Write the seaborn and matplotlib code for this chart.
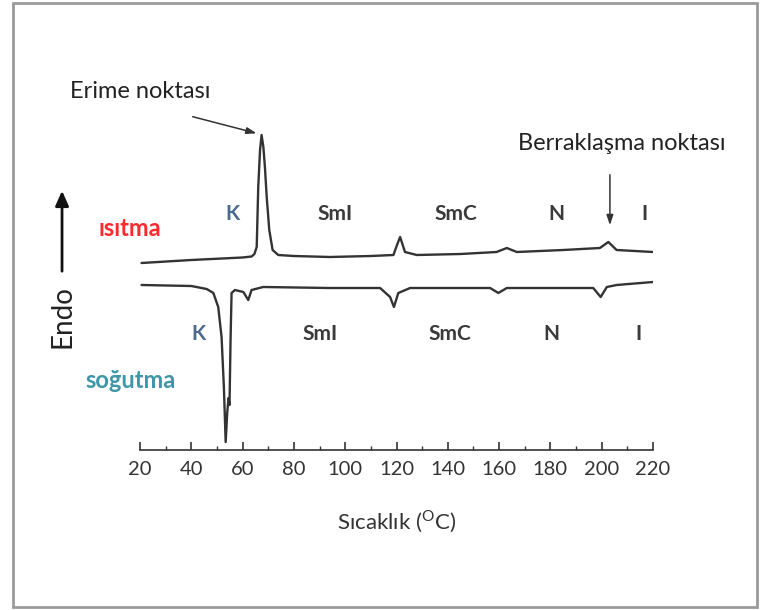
import matplotlib as mpl
import matplotlib.pyplot as plt
import matplotlib.patches as mpatches
import numpy as np
import pandas as pd
import seaborn as sns

# DSC curve (temperature in degC, signal in arbitrary units)
heat_T = [20.6, 40, 60, 63.5, 64.6, 65.5, 66.1, 66.8, 67.4, 68.1, 68.7, 69.4, 70.4, 71.7,
          73.9, 80, 94, 110, 118.8, 120.2, 121.4, 122.3, 123.3, 127.9, 145, 159, 163,
          166.9, 185, 199.3, 202.6, 205.8, 220]
heat_val = [187, 190, 192.5, 193.5, 196, 203, 263, 300, 315, 303, 283, 253, 220, 200,
            195, 194, 193, 194, 195, 205, 213, 206, 198, 195, 196, 198, 202, 198, 200,
            202, 208, 200, 198]

cool_T = [20.6, 40, 46, 48.6, 50.5, 51.8, 52.7, 53.4, 54.0, 54.5, 54.9, 55.3, 55.7, 57,
          60.3, 62.2, 63.5, 68, 94, 113.6, 117.5, 119, 120.7, 125.3, 156.5, 159.7, 163,
          196.7, 199.6, 202, 205.8, 220]
cool_val = [165, 164, 161, 157, 143, 113, 63, 8, 37, 52, 45, 110, 157, 160,
            158, 150, 160, 163, 162, 162, 153, 143, 157, 162, 162, 157, 162,
            162, 153, 163, 165, 168]

phase_labels = ["K", "SmI", "SmC", "N", "I"]
heat_phase_T = [56.1, 96.2, 143.2, 182.4, 216.5]
cool_phase_T = [43.0, 90.4, 140.9, 180.2, 214.2]

sns.set_style("white")
plt.rcParams["font.family"] = ["Lato", "DejaVu Sans"]
plt.rcParams["mathtext.fontset"] = "custom"
plt.rcParams["mathtext.rm"] = "Lato"

fig = plt.figure(figsize=(7.7, 6.1), dpi=100)
ax = fig.add_axes([140 / 770, 160 / 610, 513 / 770, 350 / 610])

line_color = "#333333"
heat = pd.DataFrame({"T": heat_T, "val": heat_val})
cool = pd.DataFrame({"T": cool_T, "val": cool_val})
sns.lineplot(data=heat, x="T", y="val", ax=ax, color=line_color, lw=1.7, sort=False)
sns.lineplot(data=cool, x="T", y="val", ax=ax, color=line_color, lw=1.7, sort=False)

ax.set_xlim(20, 220)
ax.set_ylim(0, 350)
ax.set_xticks(np.arange(20, 221, 20))
ax.set_xticks(np.arange(30, 220, 20), minor=True)
ax.set_yticks([])
ax.set_ylabel("")
ax.spines[["top", "right", "left"]].set_visible(False)
ax.spines["bottom"].set_color("#333333")
ax.spines["bottom"].set_linewidth(1.2)
ax.tick_params(axis="x", which="major", direction="in", length=6, width=1.2,
               labelsize=14.5, colors="#333333", pad=8, bottom=True)
ax.tick_params(axis="x", which="minor", direction="in", length=3, width=1.0,
               colors="#333333", bottom=True)
ax.set_xlabel(r"Sıcaklık ($^{\mathrm{O}}$C)", fontsize=16, color="#333333", labelpad=22)

# phase labels
for lab, t in zip(phase_labels, heat_phase_T):
    ax.text(t, 236, lab, ha="center", va="center", fontsize=15, fontweight="bold",
            color="#4a6b8c" if lab == "K" else "#3a3a3a")
for lab, t in zip(phase_labels, cool_phase_T):
    ax.text(t, 116, lab, ha="center", va="center", fontsize=15, fontweight="bold",
            color="#4a6b8c" if lab == "K" else "#3a3a3a")

# heating / cooling labels
ax.text(16.1, 222, "ısıtma", ha="center", va="center", fontsize=17, fontweight="bold",
        color="#ff2a2a", clip_on=False)
ax.text(16.5, 69, "soğutma", ha="center", va="center", fontsize=17, fontweight="bold",
        color="#3d97a8", clip_on=False)

# Endo arrow
ax.text(-10.4, 133, "Endo", ha="center", va="center", rotation=90, fontsize=20,
        color="#222222", clip_on=False)
ax.annotate("", xy=(-10.4, 262), xytext=(-10.4, 176), annotation_clip=False,
            arrowprops=dict(arrowstyle="-|>,head_length=0.9,head_width=0.4",
                            color="#111111", lw=2))

# melting point
ax.text(20, 359, "Erime noktası", ha="center", va="center", fontsize=17, color="#222222",
        clip_on=False)
ax.annotate("", xy=(66.5, 316), xytext=(39.5, 334), annotation_clip=False,
            arrowprops=dict(arrowstyle="-|>,head_length=0.6,head_width=0.2",
                            color="#333333", lw=1.1))

# clearing point
ax.text(207.9, 307, "Berraklaşma noktası", ha="center", va="center", fontsize=17,
        color="#222222", clip_on=False)
ax.annotate("", xy=(203.2, 222), xytext=(203.2, 278), annotation_clip=False,
            arrowprops=dict(arrowstyle="-|>,head_length=0.6,head_width=0.2",
                            color="#333333", lw=1.1))

# outer frame
fig.add_artist(mpatches.Rectangle((13 / 770, 3 / 610), 744 / 770, 604 / 610,
                                  transform=fig.transFigure, fill=False,
                                  edgecolor="#9a9a9a", lw=2))

fig.savefig("out.png", dpi=100)
